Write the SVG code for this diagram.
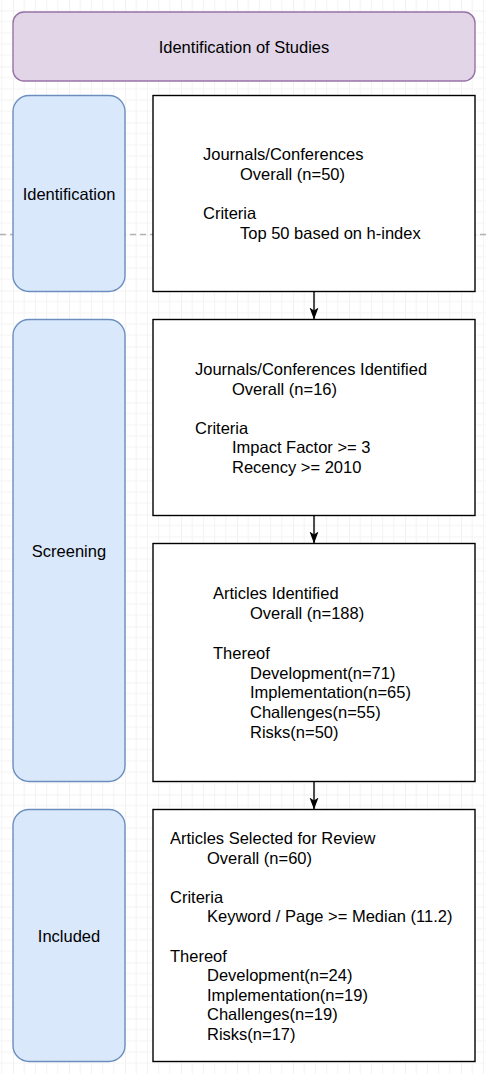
<svg xmlns="http://www.w3.org/2000/svg" width="486" height="1074" viewBox="0 0 486 1074">
<defs>
<pattern id="grid" patternUnits="userSpaceOnUse" x="13" y="10.5" width="56" height="56">
<path d="M11.2 0V56M22.4 0V56M33.6 0V56M44.8 0V56M0 11.2H56M0 22.4H56M0 33.6H56M0 44.8H56" stroke="#f3f3f3" stroke-width="1" fill="none"/>
<path d="M0 0V56M0 0H56" stroke="#e6e6e6" stroke-width="1" fill="none"/>
</pattern>
<marker id="arr" markerWidth="12" markerHeight="12" viewBox="0 0 12 12" refX="12" refY="6" orient="auto" markerUnits="userSpaceOnUse">
<path d="M0 1.5L12 6L0 10.5L3 6Z" fill="#000"/>
</marker>
</defs>
<style>
text{font-family:"Liberation Sans",Arial,sans-serif;font-size:16.5px;fill:#000}
.lane{fill:#dae8fc;stroke:#6c8ebf;stroke-width:1.4}
.box{fill:#fff;stroke:#000;stroke-width:1.4}
.c{text-anchor:middle}
.conn{stroke:#000;stroke-width:1.4;fill:none}
</style>
<rect width="486" height="1074" fill="#fff"/>
<rect width="486" height="1074" fill="url(#grid)"/>
<line x1="0" y1="234.5" x2="486" y2="234.5" stroke="#b3b3b3" stroke-width="1.4" stroke-dasharray="6 4"/>

<g id="title">
<rect x="13" y="12" width="462" height="69" rx="11" fill="#e1d5e7" stroke="#9673a6" stroke-width="1.4"/>
<text class="c" x="244" y="52.5">Identification of Studies</text>
</g>

<g id="lane-identification">
<rect class="lane" x="13" y="95.5" width="112" height="196" rx="16"/>
<text class="c" x="69" y="200">Identification</text>
</g>
<g id="lane-screening">
<rect class="lane" x="13" y="319.5" width="112" height="462" rx="16"/>
<text class="c" x="69" y="557">Screening</text>
</g>
<g id="lane-included">
<rect class="lane" x="13" y="809.5" width="112" height="252" rx="16"/>
<text class="c" x="69" y="942">Included</text>
</g>

<g id="box-identification">
<rect class="box" x="153" y="95.5" width="322" height="196"/>
<text x="203" y="160">Journals/Conferences</text>
<text x="240" y="180">Overall (n=50)</text>
<text x="203" y="219">Criteria</text>
<text x="240" y="239">Top 50 based on h-index</text>
</g>

<g id="box-screening-journals">
<rect class="box" x="153" y="319.5" width="322" height="196"/>
<text x="195" y="375">Journals/Conferences Identified</text>
<text x="232" y="394.5">Overall (n=16)</text>
<text x="195" y="433.5">Criteria</text>
<text x="232" y="453">Impact Factor &gt;= 3</text>
<text x="232" y="473">Recency &gt;= 2010</text>
</g>

<g id="box-screening-articles">
<rect class="box" x="153" y="543.5" width="322" height="238"/>
<text x="213" y="599">Articles Identified</text>
<text x="250" y="619">Overall (n=188)</text>
<text x="213" y="659">Thereof</text>
<text x="250" y="678.5">Development(n=71)</text>
<text x="250" y="698">Implementation(n=65)</text>
<text x="250" y="718">Challenges(n=55)</text>
<text x="250" y="737.5">Risks(n=50)</text>
</g>

<g id="box-included">
<rect class="box" x="153" y="809.5" width="322" height="252"/>
<text x="170" y="844">Articles Selected for Review</text>
<text x="207" y="863.5">Overall (n=60)</text>
<text x="170" y="902.5">Criteria</text>
<text x="207" y="922">Keyword / Page &gt;= Median (11.2)</text>
<text x="170" y="961.5">Thereof</text>
<text x="207" y="981">Development(n=24)</text>
<text x="207" y="1000.5">Implementation(n=19)</text>
<text x="207" y="1020">Challenges(n=19)</text>
<text x="207" y="1040">Risks(n=17)</text>
</g>

<g id="connectors">
<line class="conn" x1="314" y1="291.5" x2="314" y2="319.5" marker-end="url(#arr)"/>
<line class="conn" x1="314" y1="515.5" x2="314" y2="543.5" marker-end="url(#arr)"/>
<line class="conn" x1="314" y1="781.5" x2="314" y2="809.5" marker-end="url(#arr)"/>
</g>
</svg>
